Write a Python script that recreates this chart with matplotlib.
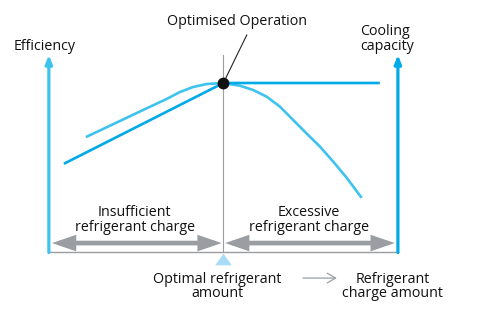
import numpy as np
import matplotlib
matplotlib.use('Agg')
import matplotlib.pyplot as plt
from matplotlib.patches import FancyArrowPatch

plt.rcParams['font.family'] = ['Open Sans', 'DejaVu Sans']

# 示意图数据：横轴为制冷剂充注量（0-100，最佳点为50），纵轴为相对值（最佳点为100）
efficiency_x = [10.6, 18.4, 28.0, 33.7, 37.5, 41.3, 45.2, 50.0, 54.7, 58.5,
                62.4, 66.2, 70.0, 73.8, 77.7, 81.5, 85.3, 89.6]
efficiency_y = [68.0, 75.6, 85.0, 90.5, 94.6, 97.6, 99.4, 100.0, 98.4, 95.9,
                91.9, 86.0, 78.1, 70.2, 62.3, 53.4, 44.0, 32.1]
cooling_x = [4.3, 50.0, 94.8]
cooling_y = [52.2, 100.0, 100.0]
optimum = (50.0, 100.0)
charge_range = (0.0, 100.0)
axis_top = 116.6

light_blue = '#3ec3ef'
dark_blue = '#00a9e7'
gray = '#9a9ea2'
text_col = '#111111'
fs = 10.3

fig = plt.figure(figsize=(4.89, 3.22), dpi=100)
ax = fig.add_axes([0, 0, 1, 1])
ax.set_xlim(-14.0, 126.1)
ax.set_ylim(-41.4, 149.1)
ax.axis('off')

lo, hi = charge_range
mid = optimum[0]

# 基线和最佳点竖线
ax.plot([lo, hi], [0, 0], color=gray, lw=1.0, zorder=1)
ax.plot([mid, mid], [0, axis_top], color=gray, lw=0.8, zorder=1)

# 两侧纵轴（带箭头）
for xpos, col in [(lo, light_blue), (hi, dark_blue)]:
    ax.add_patch(FancyArrowPatch((xpos, -0.3), (xpos, axis_top),
                                 arrowstyle='-|>,head_length=0.5,head_width=0.2',
                                 mutation_scale=10, color=col, lw=2.3,
                                 shrinkA=0, shrinkB=0, zorder=3))

# 曲线
ax.plot(efficiency_x, efficiency_y, color=light_blue, lw=1.9,
        solid_capstyle='butt', solid_joinstyle='round', zorder=2)
ax.plot(cooling_x, cooling_y, color=dark_blue, lw=1.9,
        solid_capstyle='butt', zorder=2)
ax.plot(*optimum, 'o', color='#111111', ms=7.5, zorder=4)

# 注释
ax.plot([optimum[0], 56.7], [optimum[1], 128.4], color='#222222', lw=0.8, zorder=3)
ax.text(54.0, 136.1, 'Optimised Operation', ha='center', va='center',
        fontsize=fs, color=text_col)
ax.text(-10.0, 121.3, 'Efficiency', ha='left', va='center',
        fontsize=fs, color=text_col)
ax.text(89.1, 126.0, 'Cooling\ncapacity', ha='left', va='center',
        fontsize=fs, color=text_col, linespacing=0.95)

# 不足 / 过量 区间双箭头
arrow_y = 5.3
for a, b in [(lo + 0.9, mid - 0.5), (mid + 0.5, hi - 0.9)]:
    ax.add_patch(FancyArrowPatch((a, arrow_y), (b, arrow_y),
                                 arrowstyle='<|-|>,head_length=10.5,head_width=3.6',
                                 mutation_scale=1, color=gray, lw=3.4,
                                 joinstyle='miter', capstyle='butt',
                                 shrinkA=0, shrinkB=0, zorder=2))
ax.text(24.6, 18.9, 'Insufficient\nrefrigerant charge', ha='center', va='center',
        fontsize=fs, color=text_col, linespacing=0.95)
ax.text(74.6, 18.9, 'Excessive\nrefrigerant charge', ha='center', va='center',
        fontsize=fs, color=text_col, linespacing=0.95)

# 最佳点三角标记
ax.plot(mid, -4.0, marker=[(-1, -0.7), (1, -0.7), (0, 0.7)], ms=12,
        color='#a8dcf5', mec='none', zorder=3)

ax.text(48.3, -20.4, 'Optimal refrigerant\namount', ha='center', va='center',
        fontsize=fs, color=text_col, linespacing=0.95)
ax.annotate('', xy=(82.5, -15.4), xytext=(72.8, -15.4),
            arrowprops=dict(arrowstyle='->,head_length=0.6,head_width=0.35',
                            color=gray, lw=0.9, shrinkA=0, shrinkB=0))
ax.text(98.4, -20.4, 'Refrigerant\ncharge amount', ha='center', va='center',
        fontsize=fs, color=text_col, linespacing=0.95)

fig.savefig('out.png', dpi=100)
